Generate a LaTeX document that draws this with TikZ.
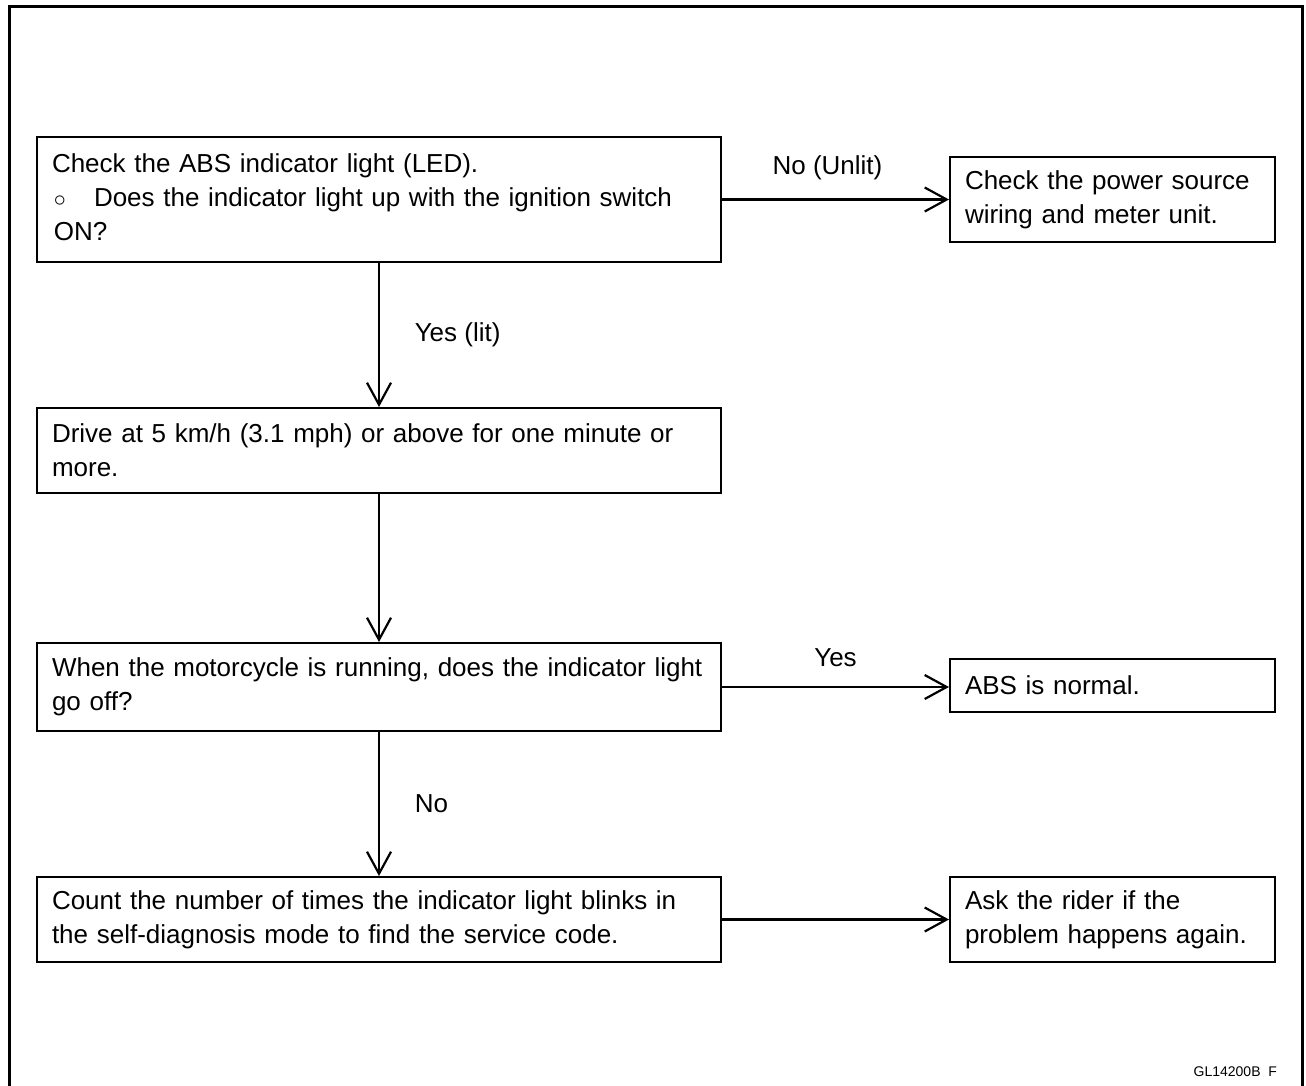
\documentclass[tikz,border=0pt]{standalone}
\usepackage{fontspec}
\setmainfont{Liberation Sans}
\usepackage{tikz}
\usetikzlibrary{arrows.meta, positioning}

\begin{document}
\begin{tikzpicture}[x=0.5pt, y=-0.5pt,
    font=\fontsize{13pt}{17pt}\selectfont,
    box/.style={draw, line width=1pt, rectangle, align=left, inner xsep=7.5pt, inner ysep=0pt},
    wide/.style={box, minimum width=342pt, text width=327pt},
    narrow/.style={box, minimum width=162.5pt, text width=147.5pt},
    flow/.style={line width=1.1pt, -{Straight Barb[length=11pt, width=12pt, line width=1.1pt]}}]
    \def\xmin{9}
    \def\xmax{1302}
    \def\ymin{7}
    \def\ymax{1086}

    \useasboundingbox (0,0) rectangle (1306,1086);
    \draw[line width=1.5pt] (\xmin,\ymax) -- (\xmin,\ymin) -- (\xmax,\ymin) -- (\xmax,\ymax);

    \node[wide, minimum height=62.5pt] (check) at (379,199.5)
        {Check the ABS indicator light (LED).\\
         \hspace*{1pt}$\circ$\hspace{14pt}Does the indicator light up with the ignition switch\\
         \hspace*{1pt}ON?\vspace{2pt}};
    \node[narrow, minimum height=42.5pt] (power) at (1112.5,199.5)
        {Check the power source\\wiring and meter unit.};
    \node[wide, minimum height=42.5pt] (drive) at (379,450.5)
        {Drive at 5 km/h (3.1 mph) or above for one minute or\\more.};
    \node[wide, minimum height=44pt] (running) at (379,687)
        {When the motorcycle is running, does the indicator light\\go off?};
    \node[narrow, minimum height=26.5pt] (normal) at (1112.5,685.5)
        {ABS is normal.};
    \node[wide, minimum height=42.5pt] (count) at (379,919.5)
        {Count the number of times the indicator light blinks in\\the self-diagnosis mode to find the service code.};
    \node[narrow, minimum height=42.5pt] (rider) at (1112.5,919.5)
        {Ask the rider if the\\problem happens again.};

    \draw[flow] (check) -- node[right=14pt] {Yes (lit)} (drive);
    \draw[flow] (check.east |- power.west) -- node[above=6pt, xshift=-4pt] {No (Unlit)} (power.west);
    \draw[flow] (drive) -- (running);
    \draw[flow] (running.east) -- node[above=6pt] {Yes} (running.east -| normal.west);
    \draw[flow] (running) -- node[right=14pt] {No} (count);
    \draw[flow] (count) -- (rider);

    \node[anchor=east, font=\fontsize{7pt}{8pt}\selectfont] (code) at (1284,1072) {GL14200B\ \ F};
\end{tikzpicture}
\end{document}
